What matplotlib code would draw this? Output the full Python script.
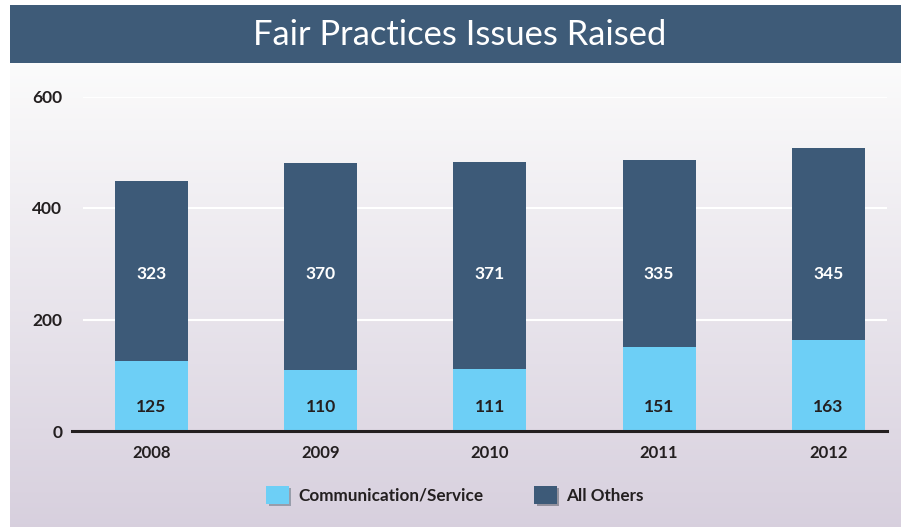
import numpy as np
import matplotlib
matplotlib.use("Agg")
import matplotlib.pyplot as plt
from matplotlib.patches import Rectangle, Patch
import matplotlib.patheffects as pe

years = ["2008", "2009", "2010", "2011", "2012"]
communication = [125, 110, 111, 151, 163]
all_others = [323, 370, 371, 335, 345]
yticks = [0, 200, 400, 600]
title = "Fair Practices Issues Raised"
series_names = ["Communication/Service", "All Others"]

c_light = "#6dcff6"
c_dark = "#3d5a78"
txt = "#231f20"

W, H = 901, 527
fig = plt.figure(figsize=(W / 100, H / 100), dpi=100)
fig.patch.set_facecolor("white")

# background gradient panel
bg = fig.add_axes([10 / W, 0, 1 - 10 / W, (H - 63) / H], zorder=-10)
top = np.array([0.985, 0.985, 0.985])
bot = np.array([0.845, 0.815, 0.870])
t = np.linspace(0, 1, 256)[:, None]
grad = top[None, :] * (1 - t) + bot[None, :] * t
bg.imshow(grad[:, None, :], aspect="auto", extent=[0, 1, 0, 1])
bg.set_axis_off()

# title band
fig.patches.append(Rectangle((10 / W, 1 - 63 / H), 1 - 10 / W, 58 / H,
                             transform=fig.transFigure, facecolor="#3e5b78",
                             edgecolor="none", zorder=0))
fig.text(460 / W, 1 - 35 / H, title, ha="center", va="center", color="white",
         fontsize=24.8, family="Lato", fontweight="normal")

ax = fig.add_axes([72 / W, 1 - 431 / H, (887 - 72) / W, (431 - 96.5) / H])
ax.patch.set_alpha(0)
x = np.arange(len(years))
bw = 0.431
ax.bar(x, communication, bw, color=c_light, zorder=3, label=series_names[0])
ax.bar(x, all_others, bw, bottom=communication, color=c_dark, zorder=3,
       label=series_names[1])

for xi, c, o in zip(x, communication, all_others):
    ax.text(xi, 43, str(c), ha="center", va="center", color=txt,
            fontsize=12.5, fontweight="bold", family="Lato", zorder=4)
    ax.text(xi, 281, str(o), ha="center", va="center", color="white",
            fontsize=12.5, fontweight="bold", family="Lato", zorder=4)

ax.set_xlim(-0.47, 4.347)
ax.set_ylim(0, 600)
ax.set_yticks(yticks)
ax.set_yticklabels([str(v) for v in yticks])
ax.set_xticks(x)
ax.set_xticklabels(years)
for v in yticks[1:]:
    ax.axhline(v, xmin=0.015, color="white", lw=1.5, zorder=1)
for s in ["top", "right", "left"]:
    ax.spines[s].set_visible(False)
ax.spines["bottom"].set_color("#231f20")
ax.spines["bottom"].set_linewidth(2.2)
ax.spines["bottom"].set_zorder(5)
ax.tick_params(axis="both", length=0, colors=txt)
ax.tick_params(axis="y", pad=7)
ax.tick_params(axis="x", pad=10)
for lab in ax.get_yticklabels() + ax.get_xticklabels():
    lab.set_fontfamily("Lato")
    lab.set_fontweight("bold")
    lab.set_fontsize(12)
for lab in ax.get_yticklabels():
    lab.set_fontsize(12.5)

handles = [Patch(facecolor=c_light, edgecolor="none",
                 path_effects=[pe.SimplePatchShadow(offset=(1.5, -1.5), alpha=0.35), pe.Normal()]),
           Patch(facecolor=c_dark, edgecolor="none",
                 path_effects=[pe.SimplePatchShadow(offset=(1.5, -1.5), alpha=0.35), pe.Normal()])]
leg = fig.legend(handles, series_names, loc="center", bbox_to_anchor=(455 / W, 1 - 495 / H),
                 ncol=2, frameon=False, handlelength=1.3, handleheight=1.3,
                 columnspacing=3.0, handletextpad=0.55,
                 prop={"family": "Lato", "weight": "bold", "size": 12.3})
for t_ in leg.get_texts():
    t_.set_color(txt)

fig.savefig("out.png", dpi=100)
